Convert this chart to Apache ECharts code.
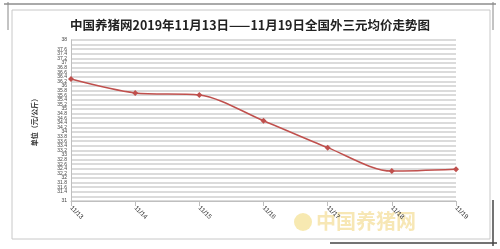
<!DOCTYPE html>
<html><head><meta charset="utf-8">
<script src="https://cdn.jsdelivr.net/npm/echarts@6/dist/echarts.min.js"></script>
<style>html,body{margin:0;padding:0;background:#fff}#c{width:500px;height:249px}</style>
</head><body><div id="c"></div>
<script>
const titleText = '中国养猪网2019年11月13日——11月19日全国外三元均价走势图';
const yName = '单位（元/公斤）';
const categories = ['11/13','11/14','11/15','11/16','11/17','11/18','11/19'];
const prices = [36.30, 35.70, 35.61, 34.49, 33.32, 32.30, 32.38];
const yMin = 31, yMax = 38, yStep = 0.2;

const chart = echarts.init(document.getElementById('c'));
chart.setOption({
  animation: false,
  backgroundColor: '#fff',
  title: {
    text: titleText, left: 'center', top: 14,
    textStyle: {fontFamily: 'Noto Sans CJK SC', fontSize: 12.5, fontWeight: 'bold', color: '#222'}
  },
  grid: {left: 71, right: 44, top: 40, bottom: 48},
  xAxis: {
    type: 'category', data: categories, boundaryGap: false,
    axisLine: {lineStyle: {color: '#bfbfbf', width: 1}},
    axisTick: {show: true, alignWithLabel: true, lineStyle: {color: '#bfbfbf'}},
    axisLabel: {rotate: -45, fontSize: 6.5, color: '#333', margin: 6, fontFamily: 'Liberation Sans'},
    splitLine: {show: false}
  },
  yAxis: {
    type: 'value', min: yMin, max: yMax, interval: yStep,
    name: yName, nameLocation: 'middle', nameGap: 33, nameRotate: 90,
    nameTextStyle: {fontSize: 7, fontWeight: 'bold', color: '#333', fontFamily: 'Noto Sans CJK SC'},
    axisLine: {show: true, lineStyle: {color: '#bfbfbf'}},
    axisTick: {show: false},
    axisLabel: {fontSize: 5, color: '#444', margin: 4, fontFamily: 'Liberation Sans',
      showMinLabel: true, showMaxLabel: true, hideOverlap: false,
      formatter: v => (Math.round(v*10)/10).toString()},
    splitLine: {lineStyle: {color: '#cfcfcf', width: 1.5}}
  },
  series: [{
    type: 'line', data: prices, smooth: 0.3,
    symbol: 'diamond', symbolSize: 6,
    lineStyle: {color: '#c0504d', width: 1.5},
    itemStyle: {color: '#c0504d'}
  }],
  graphic: [
    {type: 'rect', shape: {x: 12, y: 10, width: 478, height: 229}, style: {fill: 'none', stroke: '#c8c8c8', lineWidth: 1}, z: -1},
    {type: 'line', shape: {x1: 4, y1: 4, x2: 496, y2: 4}, style: {stroke: '#555', lineWidth: 1}},
    {type: 'line', shape: {x1: 8, y1: 2, x2: 8, y2: 30}, style: {stroke: '#888', lineWidth: 1}},
    {type: 'line', shape: {x1: 493, y1: 2, x2: 493, y2: 30}, style: {stroke: '#888', lineWidth: 1}},
    {type: 'line', shape: {x1: 493, y1: 200, x2: 493, y2: 246}, style: {stroke: '#444', lineWidth: 1.5}},
    {type: 'line', shape: {x1: 330, y1: 243, x2: 497, y2: 243}, style: {stroke: '#444', lineWidth: 1.5}},
    {type: 'circle', shape: {cx: 303, cy: 222, r: 9}, style: {fill: 'rgba(235,200,60,0.4)'}},
    {type: 'text', left: 316, top: 211, style: {text: '中国养猪网', fontSize: 20, fontWeight: 'bold', fontFamily: 'Noto Sans CJK SC', fill: 'rgba(235,195,70,0.4)'}}
  ]
});
</script></body></html>
